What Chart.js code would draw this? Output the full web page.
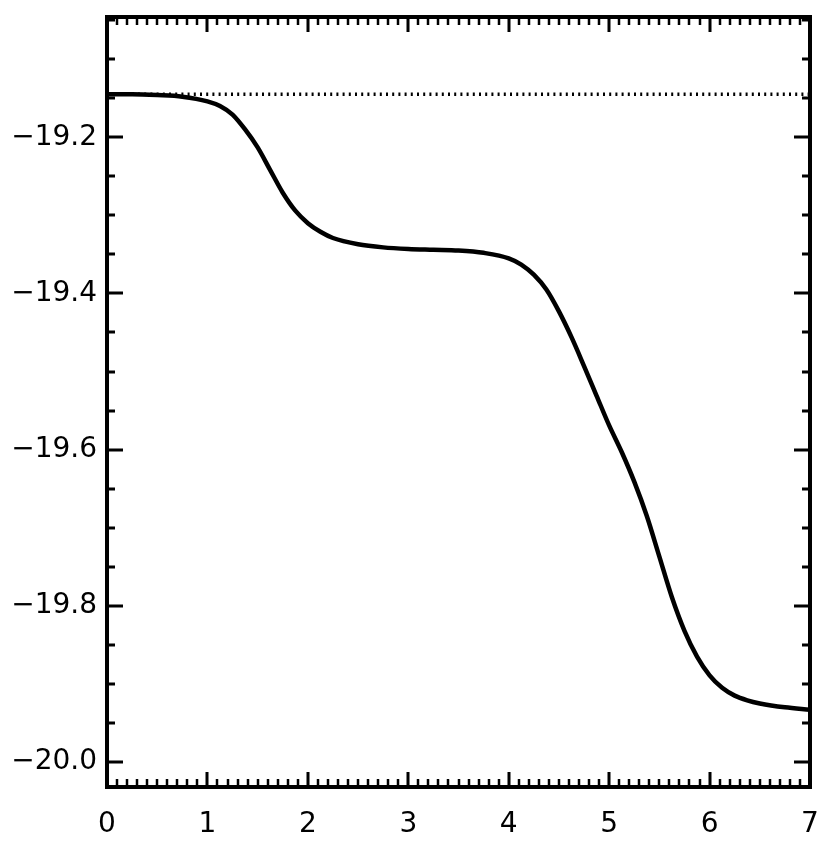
<!DOCTYPE html>
<html>
<head>
<meta charset="utf-8">
<script src="https://cdn.jsdelivr.net/npm/chart.js@4.4.1/dist/chart.umd.min.js"></script>
<style>
  html, body { margin: 0; padding: 0; background: #fff; }
  #wrap { width: 826px; height: 848px; }
</style>
</head>
<body>
<div id="wrap"><canvas id="c" width="826" height="848"></canvas></div>
<script>
// values
var xs = [0, 0.25, 0.5, 0.75, 1.0, 1.125, 1.25, 1.375, 1.5, 1.625, 1.75, 1.875, 2.0, 2.125,
          2.25, 2.5, 2.75, 3.0, 3.25, 3.5, 3.75, 4.0, 4.125, 4.25, 4.375, 4.5, 4.625, 4.75,
          4.875, 5.0, 5.125, 5.25, 5.375, 5.5, 5.625, 5.75, 5.875, 6.0, 6.125, 6.25, 6.375,
          6.5, 6.75, 7.0];
var ys = [-19.145, -19.145, -19.146, -19.148, -19.154, -19.160, -19.171, -19.190, -19.213,
          -19.242, -19.271, -19.294, -19.310, -19.321, -19.329, -19.337, -19.341, -19.343,
          -19.344, -19.345, -19.348, -19.355, -19.363, -19.376, -19.395, -19.423, -19.456,
          -19.493, -19.531, -19.569, -19.603, -19.641, -19.685, -19.737, -19.789, -19.832,
          -19.865, -19.889, -19.905, -19.915, -19.921, -19.925, -19.930, -19.933];
var refLevel = -19.145;
var xTicks = [0, 1, 2, 3, 4, 5, 6, 7];
var yTicks = [-20.0, -19.8, -19.6, -19.4, -19.2];
var xRange = [0, 7];
var yRange = [-20.032, -19.046];

var FONT = '"DejaVu Sans", sans-serif';

// frame + inward ticks on all four sides (IDL style)
var frameTicks = {
  id: 'frameTicks',
  afterDraw: function(chart) {
    var ctx = chart.ctx, a = chart.chartArea;
    var sx = chart.scales.x, sy = chart.scales.y;
    ctx.save();
    ctx.strokeStyle = '#000';
    ctx.lineCap = 'butt';
    var i, v, px, len;
    for (i = 0; i <= 70; i++) {
      v = i / 10;
      px = Math.round(sx.getPixelForValue(v));
      len = (i % 10 === 0) ? 15 : 8;
      ctx.lineWidth = (i % 10 === 0) ? 3 : 2.5;
      ctx.beginPath();
      ctx.moveTo(px, a.bottom); ctx.lineTo(px, a.bottom - len);
      ctx.moveTo(px, a.top); ctx.lineTo(px, a.top + len);
      ctx.stroke();
    }
    ctx.lineWidth = 3;
    for (i = 0; i <= 20; i++) {
      v = -20.0 + i * 0.05;
      if (v > yRange[1]) break;
      px = Math.round(sy.getPixelForValue(v));
      len = (i % 4 === 0) ? 16 : 8;
      ctx.beginPath();
      ctx.moveTo(a.left, px); ctx.lineTo(a.left + len, px);
      ctx.moveTo(a.right, px); ctx.lineTo(a.right - len, px);
      ctx.stroke();
    }
    ctx.lineWidth = 4;
    ctx.strokeRect(a.left, a.top, a.right - a.left, a.bottom - a.top);
    ctx.restore();
  }
};

new Chart(document.getElementById('c'), {
  type: 'line',
  data: {
    datasets: [
      {
        data: xs.map(function(x, i) { return { x: x, y: ys[i] }; }),
        borderColor: '#000',
        borderWidth: 4.5,
        pointRadius: 0,
        cubicInterpolationMode: 'monotone',
        fill: false
      },
      {
        data: [{ x: xRange[0], y: refLevel }, { x: xRange[1], y: refLevel }],
        borderColor: '#000',
        borderWidth: 3.5,
        borderDash: [2, 4.2],
        pointRadius: 0,
        fill: false
      }
    ]
  },
  options: {
    responsive: false,
    animation: false,
    events: [],
    layout: { padding: { top: 17, right: 16, left: 0, bottom: 0 } },
    plugins: { legend: { display: false }, tooltip: { enabled: false } },
    scales: {
      x: {
        type: 'linear',
        min: xRange[0], max: xRange[1],
        afterBuildTicks: function(s) { s.ticks = xTicks.map(function(v) { return { value: v }; }); },
        afterFit: function(s) { s.height = 61; s.paddingLeft = 0; s.paddingRight = 0; },
        grid: { display: false, drawTicks: false },
        border: { display: false },
        ticks: {
          color: '#000',
          padding: 21,
          maxRotation: 0,
          font: { family: FONT, size: 28 },
          callback: function(v) { return String(v); }
        }
      },
      y: {
        type: 'linear',
        min: yRange[0], max: yRange[1],
        afterBuildTicks: function(s) { s.ticks = yTicks.map(function(v) { return { value: v }; }); },
        afterFit: function(s) { s.width = 107; s.paddingTop = 0; s.paddingBottom = 0; },
        grid: { display: false, drawTicks: false },
        border: { display: false },
        ticks: {
          color: '#000',
          padding: 10,
          font: { family: FONT, size: 28 },
          callback: function(v) { return '\u2212' + Math.abs(v).toFixed(1); }
        }
      }
    }
  },
  plugins: [frameTicks]
});
</script>
</body>
</html>
